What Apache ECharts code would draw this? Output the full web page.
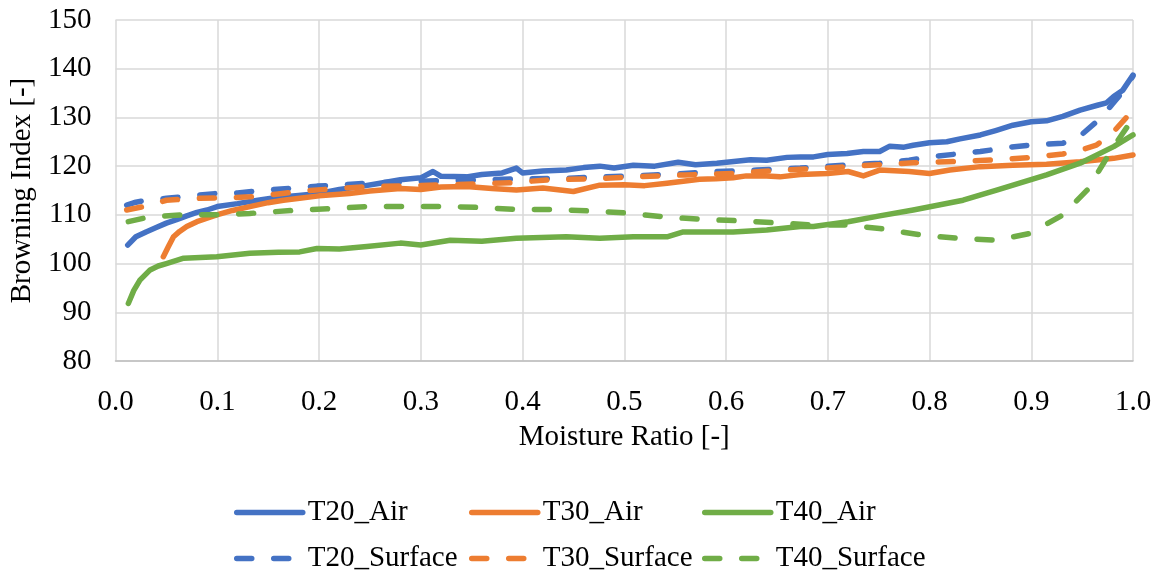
<!DOCTYPE html>
<html>
<head>
<meta charset="utf-8">
<script src="https://cdn.jsdelivr.net/npm/echarts@6/dist/echarts.min.js"></script>
<style>
html,body{margin:0;padding:0;background:#fff;}
#c{width:1158px;height:576px;}
</style>
</head>
<body>
<div id="c"></div>
<script>
var seriesNames = ['T20_Air','T30_Air','T40_Air','T20_Surface','T30_Surface','T40_Surface'];
var xTicks = [0.0,0.1,0.2,0.3,0.4,0.5,0.6,0.7,0.8,0.9,1.0];

var t20AirX = [0.012,0.02,0.03,0.04,0.05,0.06,0.07,0.08,0.09,0.10,0.12,0.14,0.16,0.18,0.20,0.22,0.24,0.26,0.28,0.30,0.312,0.32,0.345,0.36,0.38,0.394,0.40,0.42,0.443,0.46,0.476,0.49,0.509,0.53,0.553,0.57,0.591,0.61,0.624,0.64,0.66,0.673,0.686,0.70,0.719,0.735,0.751,0.761,0.775,0.784,0.80,0.817,0.83,0.85,0.865,0.882,0.90,0.915,0.931,0.948,0.965,0.974,0.981,0.99,1.0];
var t20AirY = [103.8,105.5,106.5,107.4,108.3,109.0,109.8,110.5,111.0,111.7,112.3,113.0,113.6,114.0,114.4,115.2,115.8,116.5,117.2,117.6,118.9,117.9,117.8,118.3,118.6,119.6,118.6,119.0,119.2,119.7,120.0,119.6,120.2,120.0,120.8,120.3,120.6,121.0,121.3,121.2,121.8,121.9,121.9,122.4,122.6,123.0,123.0,124.1,123.9,124.3,124.8,125.0,125.6,126.4,127.3,128.4,129.1,129.3,130.2,131.5,132.5,133.0,134.3,135.6,138.7];

var t30AirX = [0.047,0.052,0.057,0.063,0.070,0.08,0.09,0.0995,0.115,0.132,0.15,0.165,0.181,0.20,0.23,0.25,0.28,0.30,0.32,0.345,0.37,0.394,0.42,0.45,0.476,0.50,0.52,0.542,0.574,0.59,0.607,0.62,0.64,0.653,0.673,0.70,0.72,0.735,0.751,0.78,0.80,0.82,0.85,0.882,0.915,0.948,0.981,1.0];
var t30AirY = [101.4,103.5,105.5,106.6,107.6,108.6,109.3,110.0,110.9,111.7,112.5,113.0,113.4,113.9,114.4,114.9,115.4,115.2,115.7,115.8,115.4,115.1,115.5,114.8,116.1,116.2,116.0,116.5,117.3,117.4,117.6,118.0,118.0,117.8,118.3,118.5,118.9,118.0,119.2,118.9,118.5,119.2,119.9,120.2,120.4,120.9,121.6,122.3];

var t40AirX = [0.0126,0.018,0.024,0.034,0.042,0.05,0.067,0.0995,0.132,0.16,0.181,0.198,0.22,0.247,0.28,0.30,0.329,0.36,0.394,0.443,0.476,0.509,0.542,0.558,0.607,0.64,0.673,0.686,0.72,0.751,0.784,0.833,0.866,0.915,0.948,0.981,1.0];
var t40AirY = [91.8,94.5,96.6,98.7,99.5,100.0,101.1,101.4,102.1,102.3,102.4,103.1,103.0,103.5,104.2,103.8,104.8,104.6,105.2,105.5,105.2,105.5,105.5,106.5,106.5,106.9,107.6,107.6,108.6,109.8,111.0,113.0,115.1,118.2,120.6,124.0,126.4];

var t20SurfX = [0.011,0.02,0.03,0.05,0.07,0.0995,0.12,0.149,0.17,0.198,0.22,0.247,0.28,0.32,0.361,0.40,0.443,0.48,0.509,0.55,0.591,0.63,0.673,0.70,0.751,0.78,0.80,0.85,0.88,0.899,0.931,0.948,0.968,0.98,0.99,1.0];
var t20SurfY = [112.0,112.6,113.0,113.4,113.8,114.4,114.5,115.1,115.4,115.9,116.1,116.5,116.8,117.0,117.2,117.4,117.5,117.8,118.0,118.4,118.9,119.2,119.6,120.0,120.6,121.2,121.9,123.0,123.9,124.3,124.7,126.2,129.8,132.8,135.3,138.5];

var t30SurfX = [0.011,0.03,0.05,0.083,0.11,0.132,0.16,0.181,0.21,0.247,0.29,0.33,0.388,0.427,0.47,0.509,0.56,0.607,0.656,0.69,0.719,0.75,0.784,0.817,0.866,0.90,0.931,0.95,0.964,0.981,1.0];
var t30SurfY = [111.0,111.8,113.0,113.4,113.5,113.7,114.3,114.8,115.3,115.8,116.0,116.2,116.6,117.2,117.4,117.8,118.2,118.5,119.2,119.5,119.9,120.3,120.7,120.9,121.3,121.8,122.5,123.4,124.3,127.1,131.5];

var t40SurfX = [0.0126,0.034,0.067,0.0995,0.132,0.181,0.214,0.247,0.28,0.329,0.361,0.394,0.43,0.466,0.502,0.538,0.574,0.61,0.646,0.686,0.719,0.751,0.791,0.827,0.866,0.899,0.931,0.955,0.971,0.981,1.0];
var t40SurfY = [108.6,109.6,110.0,110.0,110.3,111.0,111.3,111.7,111.7,111.7,111.5,111.1,111.1,110.8,110.4,109.6,109.1,108.8,108.4,107.9,107.9,107.2,105.9,105.2,104.8,106.2,110.0,115.1,120.6,124.0,129.8];

var colors = ['#4472C4','#ED7D31','#70AD47','#4472C4','#ED7D31','#70AD47'];
var xs = [t20AirX,t30AirX,t40AirX,t20SurfX,t30SurfX,t40SurfX];
var ys = [t20AirY,t30AirY,t40AirY,t20SurfY,t30SurfY,t40SurfY];

var FONT = '"Liberation Serif","Times New Roman",serif';
var LW = 5.5;
var DASH = [15,22];

function pairs(x,y){ var out=[]; for(var i=0;i<x.length;i++){ out.push([x[i],y[i]]); } return out; }

var series = seriesNames.map(function(n,i){
  var dashed = i>=3;
  return {
    name:n, type:'line', data:pairs(xs[i],ys[i]), showSymbol:false, symbol:'none',
    smooth:false, animation:false,
    lineStyle:{color:colors[i], width:LW, type: dashed ? DASH : 'solid', cap:'round', join:'round'},
    itemStyle:{color:colors[i]}
  };
});

var legendPos = [
  {left:234, top:498},{left:469, top:498},{left:702, top:498},
  {left:234, top:544},{left:469, top:544},{left:702, top:544}
];
var legends = seriesNames.map(function(n,i){
  return {
    data:[n], left:legendPos[i].left, top:legendPos[i].top, orient:'horizontal',
    itemWidth:66, itemHeight:30, itemGap:0, padding:0,
    itemStyle:{opacity:0},
    lineStyle:{width:LW, cap:'round'},
    textStyle:{fontFamily:FONT, fontSize:29, color:'#000', padding:[0,0,0,0]}
  };
});

var chart = echarts.init(document.getElementById('c'), null, {renderer:'canvas'});
chart.setOption({
  backgroundColor:'#fff',
  animation:false,
  legend: legends,
  grid:{left:115.5, right:25, top:20, bottom:215, containLabel:false},
  xAxis:{
    type:'value', min:0, max:1, interval:0.1,
    name:'Moisture Ratio [-]', nameLocation:'middle', nameGap:62,
    nameTextStyle:{fontFamily:FONT, fontSize:29, color:'#000'},
    axisLine:{show:true, lineStyle:{color:'#BFBFBF', width:1.5}},
    axisTick:{show:false},
    axisLabel:{fontFamily:FONT, fontSize:29, color:'#000', margin:27,
      formatter:function(v){ return v.toFixed(1); }},
    splitLine:{show:true, lineStyle:{color:'#D9D9D9', width:1.5}}
  },
  yAxis:{
    type:'value', min:80, max:150, interval:10,
    name:'Browning Index [-]', nameLocation:'middle', nameGap:77,
    nameTextStyle:{fontFamily:FONT, fontSize:29, color:'#000'},
    axisLine:{show:false},
    axisTick:{show:false},
    axisLabel:{fontFamily:FONT, fontSize:29, color:'#000', margin:24},
    splitLine:{show:true, lineStyle:{color:'#D9D9D9', width:1.5}}
  },
  series: series
});
</script>
</body>
</html>
